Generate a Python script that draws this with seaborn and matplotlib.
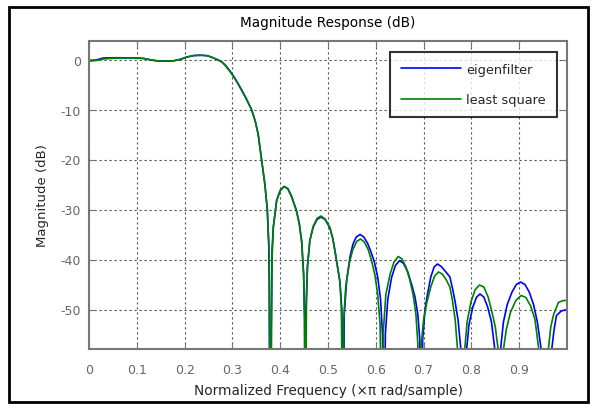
import numpy as np
import pandas as pd
import matplotlib
matplotlib.use("Agg")
import matplotlib.pyplot as plt
import seaborn as sns
from matplotlib.patches import Rectangle

# ---------------- data ----------------
freq_eigen = [0.000, 0.015, 0.030, 0.060, 0.100, 0.115, 0.130, 0.145, 0.175, 0.190,
              0.205, 0.220, 0.235, 0.248, 0.258, 0.268, 0.278, 0.285, 0.295, 0.305,
              0.316, 0.328, 0.340, 0.348, 0.354, 0.361, 0.368, 0.373, 0.376, 0.377, 0.378,
              0.383, 0.3856, 0.3926, 0.400, 0.408, 0.416, 0.424, 0.434, 0.440, 0.445, 0.449, 0.451, 0.452,
              0.454, 0.457, 0.462, 0.469, 0.477, 0.485, 0.494, 0.504, 0.510, 0.5146, 0.520, 0.525, 0.529, 0.532,
              0.534, 0.539, 0.546, 0.552, 0.559, 0.567, 0.575, 0.583, 0.590, 0.597, 0.604, 0.610, 0.614, 0.617,
              0.620, 0.625, 0.633, 0.641, 0.650, 0.658, 0.667, 0.675, 0.682, 0.688, 0.692, 0.695,
              0.698, 0.703, 0.708, 0.715, 0.722, 0.729, 0.737, 0.745, 0.755, 0.761, 0.766, 0.772, 0.778, 0.784,
              0.790, 0.795, 0.803, 0.811, 0.818, 0.826, 0.834, 0.842, 0.849, 0.855,
              0.861, 0.867, 0.875, 0.885, 0.894, 0.903, 0.912, 0.921, 0.930, 0.938, 0.946, 0.959,
              0.968, 0.973, 0.978, 0.988, 1.000]
mag_eigen = [-0.2, -0.1, 0.3, 0.35, 0.3, 0.2, -0.1, -0.3, -0.3, 0.0,
             0.5, 0.8, 0.85, 0.75, 0.4, 0.0, -0.5, -1.1, -2.3, -3.7,
             -5.5, -7.6, -10.0, -12.4, -15.0, -20.0, -25.0, -30.0, -37.0, -44.5, -80,
             -38.0, -33.5, -28.2, -26.2, -25.4, -25.8, -27.4, -30.2, -32.8, -36.5, -43.0, -52.0, -80,
             -50.0, -41.5, -36.2, -33.5, -32.0, -31.5, -32.0, -33.7, -35.8, -38.3, -41.5, -44.5, -50.0, -80,
             -51.0, -44.2, -39.5, -37.0, -35.5, -35.0, -35.5, -36.8, -38.5, -40.5, -43.5, -48.0, -55.0, -80,
             -55.0, -48.0, -43.6, -41.2, -40.2, -40.8, -42.5, -45.0, -47.5, -51.0, -56.0, -80,
             -56.0, -50.0, -47.0, -43.5, -41.5, -40.9, -41.4, -42.3, -43.5, -46.0, -48.5, -52.0, -58.0, -80,
             -58.0, -53.0, -49.5, -47.5, -46.9, -47.5, -49.5, -52.5, -58.0, -80,
             -58.0, -52.5, -49.0, -46.5, -45.0, -44.5, -45.0, -46.5, -49.0, -52.5, -58.0, -80,
             -58.0, -54.0, -51.2, -50.3, -50.0]

freq_ls = [0.000, 0.015, 0.030, 0.060, 0.100, 0.115, 0.130, 0.145, 0.175, 0.190,
           0.205, 0.220, 0.235, 0.248, 0.258, 0.268, 0.278, 0.285, 0.295, 0.305,
           0.316, 0.328, 0.340, 0.348, 0.354, 0.361, 0.368, 0.373, 0.377, 0.380,
           0.383, 0.3856, 0.3926, 0.400, 0.408, 0.416, 0.424, 0.434, 0.440, 0.445, 0.449, 0.451, 0.4525,
           0.455, 0.457, 0.462, 0.469, 0.477, 0.485, 0.494, 0.504, 0.510, 0.5146, 0.520, 0.525, 0.528, 0.531,
           0.533, 0.537, 0.545, 0.552, 0.560, 0.568, 0.576, 0.584, 0.591, 0.598, 0.604, 0.609, 0.613,
           0.616, 0.621, 0.630, 0.638, 0.647, 0.655, 0.663, 0.671, 0.678, 0.684, 0.688, 0.690,
           0.694, 0.700, 0.707, 0.715, 0.723, 0.731, 0.739, 0.747, 0.755, 0.760, 0.766, 0.771, 0.778,
           0.786, 0.791, 0.799, 0.808, 0.817, 0.826, 0.835, 0.843, 0.850, 0.856, 0.861,
           0.867, 0.873, 0.882, 0.893, 0.904, 0.914, 0.924, 0.933, 0.941, 0.952,
           0.961, 0.966, 0.972, 0.982, 0.992, 1.000]
mag_ls = [-0.3, -0.2, 0.1, 0.3, 0.3, 0.2, -0.1, -0.3, -0.3, 0.0,
          0.5, 0.8, 0.85, 0.75, 0.4, 0.0, -0.5, -1.2, -2.4, -3.8,
          -5.6, -7.7, -10.0, -12.4, -15.0, -20.0, -25.0, -30.0, -39.0, -80,
          -40.0, -33.6, -28.2, -26.2, -25.4, -25.9, -27.5, -30.3, -33.0, -36.5, -43.0, -52.0, -80,
          -48.0, -41.5, -36.2, -33.4, -31.8, -31.3, -31.9, -33.6, -35.8, -38.3, -41.5, -44.5, -50.0, -80,
          -52.0, -45.5, -40.5, -38.0, -36.4, -35.9, -36.5, -38.0, -40.2, -43.0, -47.0, -53.0, -80,
          -54.0, -47.0, -42.9, -40.5, -39.4, -39.9, -41.5, -44.0, -47.0, -51.0, -57.0, -80,
          -58.0, -52.0, -48.5, -45.5, -43.3, -42.5, -42.9, -44.0, -45.5, -48.0, -52.0, -58.0, -80,
          -58.0, -52.5, -48.5, -46.0, -45.1, -45.5, -47.5, -50.5, -53.5, -58.0, -80,
          -58.0, -54.0, -50.5, -48.2, -47.2, -47.6, -49.3, -52.0, -58.0, -80,
          -58.0, -53.5, -51.0, -48.6, -48.2, -48.2]

series_names = ["eigenfilter", "least square"]
x_ticks = [0, 0.1, 0.2, 0.3, 0.4, 0.5, 0.6, 0.7, 0.8, 0.9]
x_tick_labels = ["0", "0.1", "0.2", "0.3", "0.4", "0.5", "0.6", "0.7", "0.8", "0.9"]
y_ticks = [0, -10, -20, -30, -40, -50]
y_tick_labels = ["0", "-10", "-20", "-30", "-40", "-50"]

df = pd.concat([
    pd.DataFrame({"freq": freq_eigen, "mag": mag_eigen, "series": series_names[0]}),
    pd.DataFrame({"freq": freq_ls, "mag": mag_ls, "series": series_names[1]}),
], ignore_index=True)

# ---------------- plot ----------------
sns.set_style("white")
plt.rcParams["font.family"] = ["DejaVu Sans"]

fig = plt.figure(figsize=(5.95, 4.10), dpi=100)
ax = fig.add_axes([89 / 595, 1 - 350 / 410, (567 - 89) / 595, (350 - 42) / 410])

palette = {series_names[0]: "#0000ff", series_names[1]: "#008000"}
sns.lineplot(data=df, x="freq", y="mag", hue="series", palette=palette,
             estimator=None, sort=False, linewidth=1.2, ax=ax, legend=False)

ax.set_xlim(0, 1)
ax.set_ylim(-57.9, 3.7)
ax.set_xticks(x_ticks)
ax.set_xticklabels(x_tick_labels)
ax.set_yticks(y_ticks)
ax.set_yticklabels(y_tick_labels)

ax.grid(True, color="#555555", linestyle=(0, (2, 2.5)), linewidth=0.8)
for s in ax.spines.values():
    s.set_color("#777777")
    s.set_linewidth(1.5)
ax.tick_params(direction="in", length=4, width=0.8, color="#777777",
               top=True, right=True, bottom=True, left=True,
               labelcolor="#666666", labelsize=9)
ax.tick_params(axis="x", pad=10)
ax.tick_params(axis="y", pad=6)

ax.set_title("Magnitude Response (dB)", fontsize=9.8, pad=11, color="black")
ax.set_xlabel("Normalized Frequency (\u00d7\u03c0 rad/sample)", fontsize=9.8, labelpad=5)
ax.set_ylabel("Magnitude (dB)", fontsize=9.5, labelpad=8)

handles = [plt.Line2D([], [], color=palette[n], lw=1.2) for n in series_names]
leg = ax.legend(handles, series_names, loc="upper right", bbox_to_anchor=(557 / 595, 1 - 53 / 410),
                bbox_transform=fig.transFigure, fontsize=9.3, frameon=True, fancybox=False,
                handlelength=4.6, handletextpad=0.45, borderpad=0.85, labelspacing=1.35,
                borderaxespad=0)
leg.get_frame().set_edgecolor("black")
leg.get_frame().set_linewidth(1.5)

fig.patches.append(Rectangle((8.5 / 595, 1 - 403 / 410), (588 - 8.5) / 595, (403 - 8) / 410,
                             transform=fig.transFigure, fill=False, edgecolor="black", linewidth=2))

fig.savefig("out.png", dpi=100, facecolor="white")
